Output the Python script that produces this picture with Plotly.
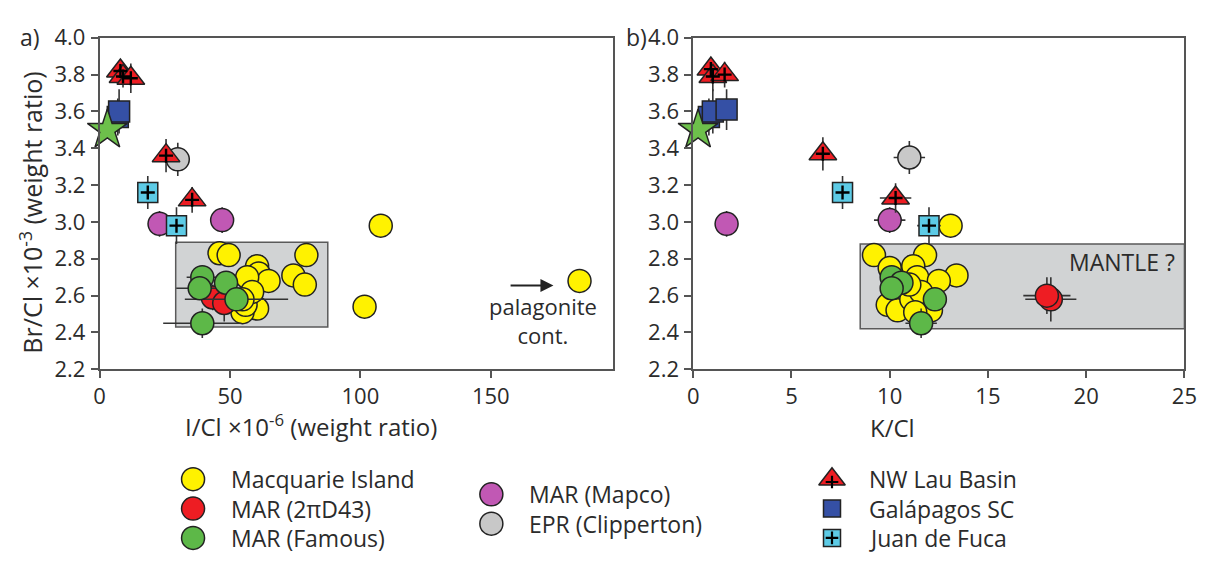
import plotly.graph_objects as go

# ---------------- data: panel a (I/Cl x1e-6 vs Br/Cl x1e-3) ----------------
MACQ_ICL = [46.0, 49.5, 79.3, 74.3, 78.7, 60.4, 61.0, 64.8, 56.6, 60.4, 54.8, 56.0, 58.5, 54.8,
            107.8, 101.6, 184.0]
MACQ_BRCL_A = [2.83, 2.82, 2.82, 2.71, 2.66, 2.76, 2.72, 2.68, 2.70, 2.53, 2.51, 2.55, 2.62, 2.58,
               2.98, 2.54, 2.68]

D43_ICL = [43.4, 47.8]
D43_BRCL_A = [2.59, 2.56]
D43_ICL_ERR = [0.0, 0.0]
D43_BRCL_A_ERR = [0.07, 0.10]

FAM_ICL = [39.4, 38.4, 48.5, 52.5, 39.4]
FAM_BRCL_A = [2.70, 2.64, 2.67, 2.58, 2.45]
FAM_ICL_ERR = [6.0, 9.0, 0.0, 19.8, 15.0]
FAM_BRCL_A_ERR = [0.06, 0.05, 0.06, 0.05, 0.08]

MAPCO_ICL = [23.0, 47.0]
MAPCO_BRCL_A = [2.99, 3.01]
MAPCO_BRCL_A_ERR = [0.07, 0.07]

EPR_ICL = [30.0]
EPR_BRCL_A = [3.34]
EPR_BRCL_A_ERR = [0.09]

LAU_ICL = [8.0, 9.0, 12.0, 25.5, 35.5]
LAU_BRCL_A = [3.82, 3.79, 3.78, 3.36, 3.12]
LAU_BRCL_A_ERR = [0.06, 0.06, 0.08, 0.09, 0.07]

GAL_ICL = [7.0, 7.5]
GAL_BRCL_A = [3.57, 3.60]
GAL_BRCL_A_ERR = [0.10, 0.12]

JDF_ICL = [18.5, 29.5]
JDF_BRCL_A = [3.16, 2.98]
JDF_BRCL_A_ERR = [0.09, 0.10]

SW_ICL = [3.0]
SW_BRCL_A = [3.50]

# ---------------- data: panel b (K/Cl vs Br/Cl x1e-3) ----------------
MACQ_KCL = [9.2, 11.8, 13.4, 10.0, 11.2, 11.4, 12.5, 9.9, 10.4, 11.1, 12.1, 11.6, 11.3, 11.0, 13.1]
MACQ_BRCL_B = [2.82, 2.82, 2.71, 2.75, 2.76, 2.70, 2.68, 2.55, 2.52, 2.58, 2.52, 2.62, 2.51, 2.66, 2.98]

D43_KCL = [18.2, 18.0]
D43_BRCL_B = [2.58, 2.60]
D43_KCL_ERR = [1.3, 1.2]
D43_BRCL_B_ERR = [0.12, 0.10]

FAM_KCL = [10.1, 10.6, 10.1, 12.3, 11.6]
FAM_BRCL_B = [2.70, 2.67, 2.64, 2.58, 2.45]
FAM_KCL_ERR = [0.4, 0.0, 0.4, 0.6, 0.8]
FAM_BRCL_B_ERR = [0.05, 0.05, 0.05, 0.05, 0.08]

MAPCO_KCL = [1.7, 10.0]
MAPCO_BRCL_B = [2.99, 3.01]
MAPCO_KCL_ERR = [0.0, 0.8]
MAPCO_BRCL_B_ERR = [0.07, 0.07]

EPR_KCL = [11.0]
EPR_BRCL_B = [3.35]
EPR_KCL_ERR = [0.8]
EPR_BRCL_B_ERR = [0.09]

LAU_KCL = [0.9, 1.0, 1.6, 6.6, 10.3]
LAU_BRCL_B = [3.83, 3.79, 3.80, 3.37, 3.13]
LAU_KCL_ERR = [0.0, 0.0, 0.0, 0.1, 0.8]
LAU_BRCL_B_ERR = [0.06, 0.08, 0.07, 0.09, 0.08]

GAL_KCL = [0.8, 1.0, 1.7]
GAL_BRCL_B = [3.57, 3.60, 3.61]
GAL_BRCL_B_ERR = [0.10, 0.12, 0.11]

JDF_KCL = [7.6, 12.0]
JDF_BRCL_B = [3.16, 2.98]
JDF_KCL_ERR = [0.3, 0.6]
JDF_BRCL_B_ERR = [0.09, 0.10]

SW_KCL = [0.25]
SW_BRCL_B = [3.50]

# shaded fields (x0, x1, y0, y1)
FIELD_A = [29.2, 87.5, 2.43, 2.89]
FIELD_B = [8.5, 25.0, 2.42, 2.88]

# palagonite arrow (I/Cl from -> to, Br/Cl)
PALAG_ARROW = [157.0, 174.0, 2.655]

Y_TICKS = [2.2, 2.4, 2.6, 2.8, 3.0, 3.2, 3.4, 3.6, 3.8, 4.0]
XA_TICKS = [0, 50, 100, 150]
XB_TICKS = [0, 5, 10, 15, 20, 25]

LEGEND_NAMES = [
    ["Macquarie Island", "MAR (2πD43)", "MAR (Famous)"],
    ["MAR (Mapco)", "EPR (Clipperton)"],
    ["NW Lau Basin", "Galápagos SC", "Juan de Fuca"],
]

# ---------------- styling ----------------
FONT = "Open Sans, Liberation Sans, sans-serif"
TXT = "#2b2b2b"
EDGE = "#222222"
AX = "#555555"
C_MACQ = "#FFF200"
C_D43 = "#EE1D23"
C_FAM = "#5DB848"
C_MAPCO = "#C158B4"
C_EPR = "#C8C8C8"
C_LAU = "#EE1D23"
C_GAL = "#3550A5"
C_JDF = "#5DCBE6"
C_SW = "#6DC04B"

fig = go.Figure()


def err(vals, color="#333333"):
    if vals is None:
        return None
    return dict(type="data", array=vals, visible=True, color=color, thickness=1.6, width=0)


def pts(x, y, xa, ya, color, symbol="circle", size=23, ex=None, ey=None, cross=False):
    fig.add_trace(go.Scatter(
        x=x, y=y, xaxis=xa, yaxis=ya, mode="markers", cliponaxis=False,
        marker=dict(symbol=symbol, size=size, color=color, line=dict(color=EDGE, width=1.5)),
        error_x=err(ex), error_y=err(ey), showlegend=False, hoverinfo="x+y"))
    if cross:
        fig.add_trace(go.Scatter(
            x=x, y=y, xaxis=xa, yaxis=ya, mode="markers", cliponaxis=False,
            marker=dict(symbol="cross-thin", size=10, color="black",
                        line=dict(color="black", width=2.4)),
            showlegend=False, hoverinfo="skip"))


# panel a
pts(MACQ_ICL, MACQ_BRCL_A, "x", "y", C_MACQ)
pts(D43_ICL, D43_BRCL_A, "x", "y", C_D43, ex=D43_ICL_ERR, ey=D43_BRCL_A_ERR)
pts(FAM_ICL, FAM_BRCL_A, "x", "y", C_FAM, ex=FAM_ICL_ERR, ey=FAM_BRCL_A_ERR)
pts(MAPCO_ICL, MAPCO_BRCL_A, "x", "y", C_MAPCO, ey=MAPCO_BRCL_A_ERR)
pts(EPR_ICL, EPR_BRCL_A, "x", "y", C_EPR, ey=EPR_BRCL_A_ERR)
pts(JDF_ICL, JDF_BRCL_A, "x", "y", C_JDF, symbol="square", size=20, ey=JDF_BRCL_A_ERR, cross=True)
pts(GAL_ICL, GAL_BRCL_A, "x", "y", C_GAL, symbol="square", size=21, ey=GAL_BRCL_A_ERR)
pts(SW_ICL, SW_BRCL_A, "x", "y", C_SW, symbol="star", size=30)
pts(LAU_ICL, LAU_BRCL_A, "x", "y", C_LAU, symbol="triangle-up", size=24, ey=LAU_BRCL_A_ERR, cross=True)

# panel b
pts(MACQ_KCL, MACQ_BRCL_B, "x2", "y2", C_MACQ)
pts(D43_KCL, D43_BRCL_B, "x2", "y2", C_D43, ex=D43_KCL_ERR, ey=D43_BRCL_B_ERR)
pts(FAM_KCL, FAM_BRCL_B, "x2", "y2", C_FAM, ex=FAM_KCL_ERR, ey=FAM_BRCL_B_ERR)
pts(MAPCO_KCL, MAPCO_BRCL_B, "x2", "y2", C_MAPCO, ex=MAPCO_KCL_ERR, ey=MAPCO_BRCL_B_ERR)
pts(EPR_KCL, EPR_BRCL_B, "x2", "y2", C_EPR, ex=EPR_KCL_ERR, ey=EPR_BRCL_B_ERR)
pts(JDF_KCL, JDF_BRCL_B, "x2", "y2", C_JDF, symbol="square", size=20,
    ex=JDF_KCL_ERR, ey=JDF_BRCL_B_ERR, cross=True)
pts(GAL_KCL, GAL_BRCL_B, "x2", "y2", C_GAL, symbol="square", size=21, ey=GAL_BRCL_B_ERR)
pts(SW_KCL, SW_BRCL_B, "x2", "y2", C_SW, symbol="star", size=30)
pts(LAU_KCL, LAU_BRCL_B, "x2", "y2", C_LAU, symbol="triangle-up", size=24,
    ex=LAU_KCL_ERR, ey=LAU_BRCL_B_ERR, cross=True)

# ---------------- key (drawn on a pixel-scaled helper axis) ----------------
KEY_COL_X = [190, 493, 839]
KEY_TEXT_GAP = 36
KEY_ROW0 = [489, 505, 489]
KEY_ROW_STEP = 31
key_styles = [
    [(C_MACQ, "circle", 23, False), (C_D43, "circle", 23, False), (C_FAM, "circle", 23, False)],
    [(C_MAPCO, "circle", 23, False), (C_EPR, "circle", 23, False)],
    [(C_LAU, "triangle-up", 23, True), (C_GAL, "square", 17, False), (C_JDF, "square", 17, True)],
]
annotations = []
for ci, names in enumerate(LEGEND_NAMES):
    for ri, name in enumerate(names):
        col, sym, sz, crs = key_styles[ci][ri]
        kx = [KEY_COL_X[ci]]
        ky = [KEY_ROW0[ci] + ri * KEY_ROW_STEP]
        fig.add_trace(go.Scatter(
            x=kx, y=ky, xaxis="x3", yaxis="y3", mode="markers", cliponaxis=False,
            marker=dict(symbol=sym, size=sz, color=col, line=dict(color=EDGE, width=1.5)),
            showlegend=False, hoverinfo="skip"))
        if crs:
            fig.add_trace(go.Scatter(
                x=kx, y=[ky[0] + (3 if sym == "triangle-up" else 0)], xaxis="x3", yaxis="y3",
                mode="markers", cliponaxis=False,
                marker=dict(symbol="cross-thin", size=9, color="black",
                            line=dict(color="black", width=2.2)),
                showlegend=False, hoverinfo="skip"))
        annotations.append(dict(
            x=kx[0] + KEY_TEXT_GAP, y=ky[0], xref="x3", yref="y3", text=name, showarrow=False,
            xanchor="left", yanchor="middle", font=dict(family=FONT, size=23, color=TXT)))

# ---------------- text ----------------
annotations += [
    dict(x=12 / 1226, y=1 - 22 / 568, xref="paper", yref="paper", text="a)", showarrow=False,
         xanchor="left", yanchor="middle", font=dict(family=FONT, size=23, color=TXT)),
    dict(x=628 / 1226, y=1 - 22 / 568, xref="paper", yref="paper", text="b)", showarrow=False,
         xanchor="left", yanchor="middle", font=dict(family=FONT, size=23, color=TXT)),
    dict(x=25 / 1226, y=1 - 208 / 568, xref="paper", yref="paper",
         text="Br/Cl ×10<sup>-3</sup> (weight ratio)", textangle=-90, showarrow=False,
         xanchor="center", yanchor="middle", font=dict(family=FONT, size=25, color=TXT)),
    dict(x=310 / 1226, y=1 - 432 / 568, xref="paper", yref="paper",
         text="I/Cl ×10<sup>-6</sup> (weight ratio)", showarrow=False,
         xanchor="center", yanchor="middle", font=dict(family=FONT, size=24, color=TXT)),
    dict(x=900 / 1226, y=1 - 434 / 568, xref="paper", yref="paper", text="K/Cl", showarrow=False,
         xanchor="center", yanchor="middle", font=dict(family=FONT, size=24, color=TXT)),
    dict(x=PALAG_ARROW[1], y=PALAG_ARROW[2], ax=PALAG_ARROW[0], ay=PALAG_ARROW[2],
         xref="x", yref="y", axref="x", ayref="y",
         text="", showarrow=True, arrowhead=2, arrowsize=1.3, arrowwidth=2, arrowcolor="#222"),
    dict(x=170, y=2.465, xref="x", yref="y", text="palagonite<br>cont.", showarrow=False,
         xanchor="center", yanchor="middle", align="center",
         font=dict(family=FONT, size=22, color=TXT)),
    dict(x=24.6, y=2.78, xref="x2", yref="y2", text="MANTLE ?", showarrow=False,
         xanchor="right", yanchor="middle", font=dict(family=FONT, size=23, color=TXT)),
]

shapes = [
    dict(type="rect", xref="x", yref="y", x0=FIELD_A[0], x1=FIELD_A[1], y0=FIELD_A[2], y1=FIELD_A[3],
         fillcolor="#D1D3D4", line=dict(color="#5a5a5a", width=1.5), layer="below"),
    dict(type="rect", xref="x2", yref="y2", x0=FIELD_B[0], x1=FIELD_B[1], y0=FIELD_B[2], y1=FIELD_B[3],
         fillcolor="#D1D3D4", line=dict(color="#5a5a5a", width=1.5), layer="below"),
]

axis_common = dict(showgrid=False, zeroline=False, showline=True, linecolor=AX, linewidth=1.5,
                   mirror=True, ticks="outside", ticklen=7, tickwidth=1.5, tickcolor=AX,
                   tickfont=dict(family=FONT, size=22, color=TXT))
y_dom = [1 - 373 / 568, 1 - 23 / 568]

fig.update_layout(
    width=1226, height=568, margin=dict(l=0, r=0, t=0, b=0),
    paper_bgcolor="white", plot_bgcolor="rgba(0,0,0,0)", showlegend=False,
    xaxis=dict(axis_common, domain=[95 / 1226, 617 / 1226], range=[0, 197], tickvals=XA_TICKS,
               anchor="y", ticklabelstandoff=0),
    yaxis=dict(axis_common, domain=y_dom, range=[2.2, 4.0], tickvals=Y_TICKS, tickformat=".1f",
               anchor="x", ticklabelstandoff=1),
    xaxis2=dict(axis_common, domain=[698 / 1226, 1197 / 1226], range=[0, 25], tickvals=XB_TICKS,
                anchor="y2", ticklabelstandoff=0),
    yaxis2=dict(axis_common, domain=y_dom, range=[2.2, 4.0], tickvals=Y_TICKS, tickformat=".1f",
                anchor="x2", ticklabelstandoff=1),
    xaxis3=dict(domain=[0, 1], range=[0, 1226], visible=False, anchor="y3", fixedrange=True),
    yaxis3=dict(domain=[0, 110 / 568], range=[568, 458], visible=False, anchor="x3", fixedrange=True),
    annotations=annotations, shapes=shapes,
)

fig.write_html("out.html")
